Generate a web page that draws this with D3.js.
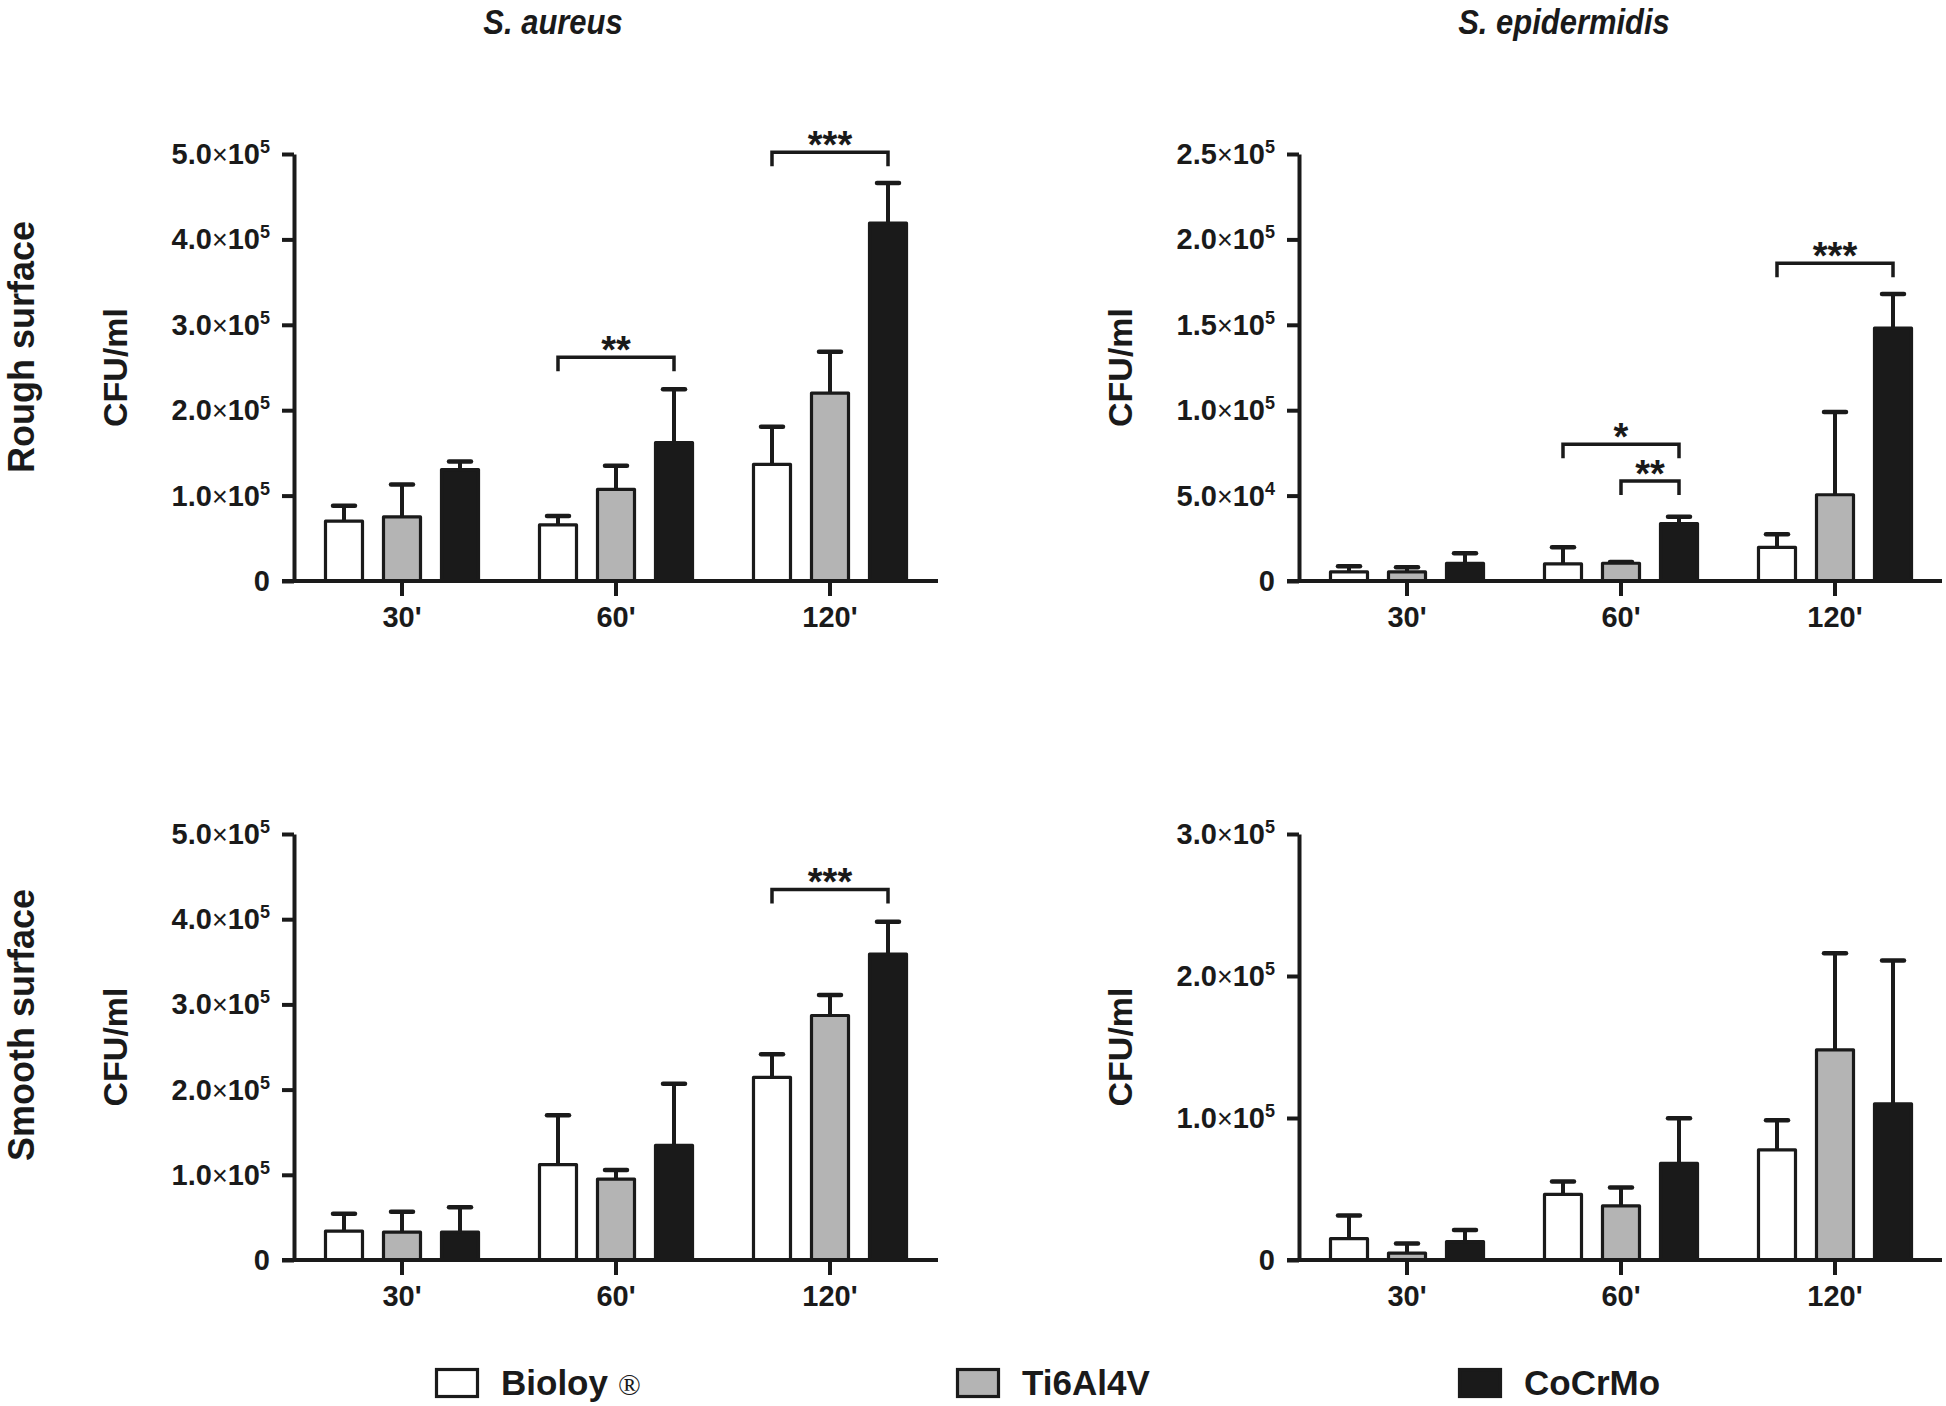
<!DOCTYPE html>
<html><head><meta charset="utf-8">
<script src="https://cdn.jsdelivr.net/npm/d3@7"></script>
<style>
body{margin:0;background:#fff}
svg{display:block}
text{font-family:"Liberation Sans",Arial,sans-serif;font-weight:bold;fill:#1a1a1a}
</style>
</head><body>
<svg id="c" width="1946" height="1406"></svg>
<script>
// ---------------- DATA ----------------
const categories = ["30'", "60'", "120'"];
const seriesNames = ["Bioloy", "Ti6Al4V", "CoCrMo"];
const columnTitles = ["S. aureus", "S. epidermidis"];
const rowTitles = ["Rough surface", "Smooth surface"];
const yAxisTitle = "CFU/ml";

// means and upper error (SD) : [series][category]
const roughAureusMean = [[70000, 65700, 136600], [75000, 107400, 220000], [130500, 162000, 419000]];
const roughAureusSD   = [[18000, 10300, 44000],  [38000, 27600, 48500],   [9500, 62500, 47000]];
const roughEpiMean    = [[5300, 10000, 19700],   [5300, 10400, 50500],    [10400, 33600, 148000]];
const roughEpiSD      = [[3300, 9700, 7600],     [2800, 700, 48500],      [5800, 4000, 20000]];
const smoothAureusMean= [[34000, 112000, 214400],[32600, 95000, 287000],  [32600, 134600, 359000]];
const smoothAureusSD  = [[20400, 58000, 27200],  [24100, 10600, 24000],   [29400, 72400, 38000]];
const smoothEpiMean   = [[15000, 46200, 77500],  [4900, 38100, 148000],   [13000, 68000, 110000]];
const smoothEpiSD     = [[16300, 9000, 21000],   [6800, 13000, 68000],    [8200, 31800, 101000]];

const roughAureusTicks  = [0, 1e5, 2e5, 3e5, 4e5, 5e5];
const roughEpiTicks     = [0, 5e4, 1e5, 1.5e5, 2e5, 2.5e5];
const smoothAureusTicks = [0, 1e5, 2e5, 3e5, 4e5, 5e5];
const smoothEpiTicks    = [0, 1e5, 2e5, 3e5];

// significance brackets: category index, from/to series index, bracket level (data units)
const roughAureusBrackets  = [{cat: 1, from: 0, to: 2, y: 262000, label: "**"}, {cat: 2, from: 0, to: 2, y: 502000, label: "***"}];
const roughEpiBrackets     = [{cat: 1, from: 0, to: 2, y: 80000, label: "*"}, {cat: 1, from: 1, to: 2, y: 58500, label: "**"}, {cat: 2, from: 0, to: 2, y: 186000, label: "***"}];
const smoothAureusBrackets = [{cat: 2, from: 0, to: 2, y: 435000, label: "***"}];
const smoothEpiBrackets    = [];

// ---------------- LAYOUT / STYLE ----------------
const ink = "#1a1a1a";
const fills = ["#ffffff", "#b4b4b4", "#1a1a1a"];
const panels = [
  {mean: roughAureusMean, sd: roughAureusSD, ticks: roughAureusTicks, brackets: roughAureusBrackets, x0: 294, xEnd: 938, yTop: 154, yBot: 581},
  {mean: roughEpiMean, sd: roughEpiSD, ticks: roughEpiTicks, brackets: roughEpiBrackets, x0: 1299, xEnd: 1942, yTop: 154, yBot: 581},
  {mean: smoothAureusMean, sd: smoothAureusSD, ticks: smoothAureusTicks, brackets: smoothAureusBrackets, x0: 294, xEnd: 938, yTop: 834, yBot: 1260},
  {mean: smoothEpiMean, sd: smoothEpiSD, ticks: smoothEpiTicks, brackets: smoothEpiBrackets, x0: 1299, xEnd: 1942, yTop: 834, yBot: 1260}
];

const svg = d3.select("#c");

function tickLabel(sel, v) {
  if (v === 0) { sel.text("0"); return; }
  const e = Math.floor(Math.log10(v) + 1e-9);
  const m = (v / Math.pow(10, e)).toFixed(1);
  sel.append("tspan").text(m);
  sel.append("tspan").attr("font-weight", "normal").attr("font-size", 27).text("\u00d7");
  sel.append("tspan").text("10");
  sel.append("tspan").attr("font-size", 18).attr("dy", -11).text(e);
}

panels.forEach(p => {
  const g = svg.append("g");
  const maxV = p.ticks[p.ticks.length - 1];
  const y = d3.scaleLinear().domain([0, maxV]).range([p.yBot, p.yTop]);
  const x = d3.scalePoint().domain(categories).range([p.x0 + 108, p.x0 + 108 + 428]);
  const sub = d3.scaleBand().domain(seriesNames).range([-87, 87]).paddingInner(0.3103).paddingOuter(0.155);
  const bw = sub.bandwidth();
  const cx = (ci, si) => x(categories[ci]) + sub(seriesNames[si]) + bw / 2;

  // bars
  seriesNames.forEach((s, si) => {
    categories.forEach((c, ci) => {
      const m = p.mean[si][ci], sd = p.sd[si][ci];
      const xc = cx(ci, si);
      g.append("line").attr("x1", xc).attr("x2", xc).attr("y1", y(m)).attr("y2", y(m + sd))
        .attr("stroke", ink).attr("stroke-width", 4);
      g.append("line").attr("x1", xc - 11).attr("x2", xc + 11).attr("y1", y(m + sd)).attr("y2", y(m + sd))
        .attr("stroke", ink).attr("stroke-width", 4.5).attr("stroke-linecap", "round");
      g.append("rect").attr("x", x(c) + sub(s) + 1.5).attr("y", y(m)).attr("width", bw - 3).attr("height", p.yBot - y(m))
        .attr("fill", fills[si]).attr("stroke", ink).attr("stroke-width", 3.2).attr("stroke-linejoin", "round");
    });
  });

  // y axis
  const ya = d3.axisLeft(y).tickValues(p.ticks).tickSize(12).tickSizeOuter(0).tickFormat("");
  const yg = g.append("g").attr("transform", `translate(${p.x0},0)`).call(ya);
  yg.select(".domain").attr("stroke", ink).attr("stroke-width", 4);
  yg.selectAll(".tick line").attr("stroke", ink).attr("stroke-width", 4);
  p.ticks.forEach(v => {
    const t = g.append("text").attr("x", p.x0 - 24).attr("y", y(v) + 10).attr("text-anchor", "end").attr("font-size", 29);
    tickLabel(t, v);
  });

  // x axis
  g.append("line").attr("x1", p.x0 - 12).attr("x2", p.xEnd).attr("y1", p.yBot).attr("y2", p.yBot)
    .attr("stroke", ink).attr("stroke-width", 4);
  categories.forEach(c => {
    g.append("line").attr("x1", x(c)).attr("x2", x(c)).attr("y1", p.yBot).attr("y2", p.yBot + 15)
      .attr("stroke", ink).attr("stroke-width", 4);
    g.append("text").attr("x", x(c)).attr("y", p.yBot + 46).attr("text-anchor", "middle").attr("font-size", 29).text(c);
  });

  // y title
  g.append("text").attr("transform", `translate(${p.x0 - 167},${(p.yTop + p.yBot) / 2}) rotate(-90)`)
    .attr("text-anchor", "middle").attr("font-size", 34).text(yAxisTitle);

  // brackets
  p.brackets.forEach(b => {
    const x1 = cx(b.cat, b.from), x2 = cx(b.cat, b.to), by = y(b.y);
    g.append("path").attr("d", `M${x1},${by + 14}V${by}H${x2}V${by + 14}`)
      .attr("fill", "none").attr("stroke", ink).attr("stroke-width", 3.5);
    g.append("text").attr("x", (x1 + x2) / 2).attr("y", by + 6).attr("text-anchor", "middle")
      .attr("font-size", 38).text(b.label);
  });
});

// column titles (condensed bold italic)
[553, 1564].forEach((cxp, i) => {
  svg.append("text").attr("transform", `translate(${cxp},34) scale(0.86,1)`).attr("text-anchor", "middle")
    .attr("font-size", 36).attr("font-style", "italic").text(columnTitles[i]);
});
// row titles
[347, 1025].forEach((cy, i) => {
  svg.append("text").attr("transform", `translate(34,${cy}) rotate(-90)`).attr("text-anchor", "middle")
    .attr("font-size", 36).text(rowTitles[i]);
});

// legend
const legendX = [435, 956, 1458];
seriesNames.forEach((s, i) => {
  svg.append("rect").attr("x", legendX[i] + 1.5).attr("y", 1369.5).attr("width", 41).attr("height", 27)
    .attr("fill", fills[i]).attr("stroke", ink).attr("stroke-width", 3.2);
  const t = svg.append("text").attr("x", legendX[i] + 66).attr("y", 1395).attr("font-size", 35);
  t.append("tspan").text(s);
  if (i === 0) {
    t.append("tspan").attr("font-family", "'Liberation Serif',serif").attr("font-weight", "normal")
      .attr("font-size", 30).attr("dx", 10).text("\u00ae");
  }
});
</script>
</body></html>
